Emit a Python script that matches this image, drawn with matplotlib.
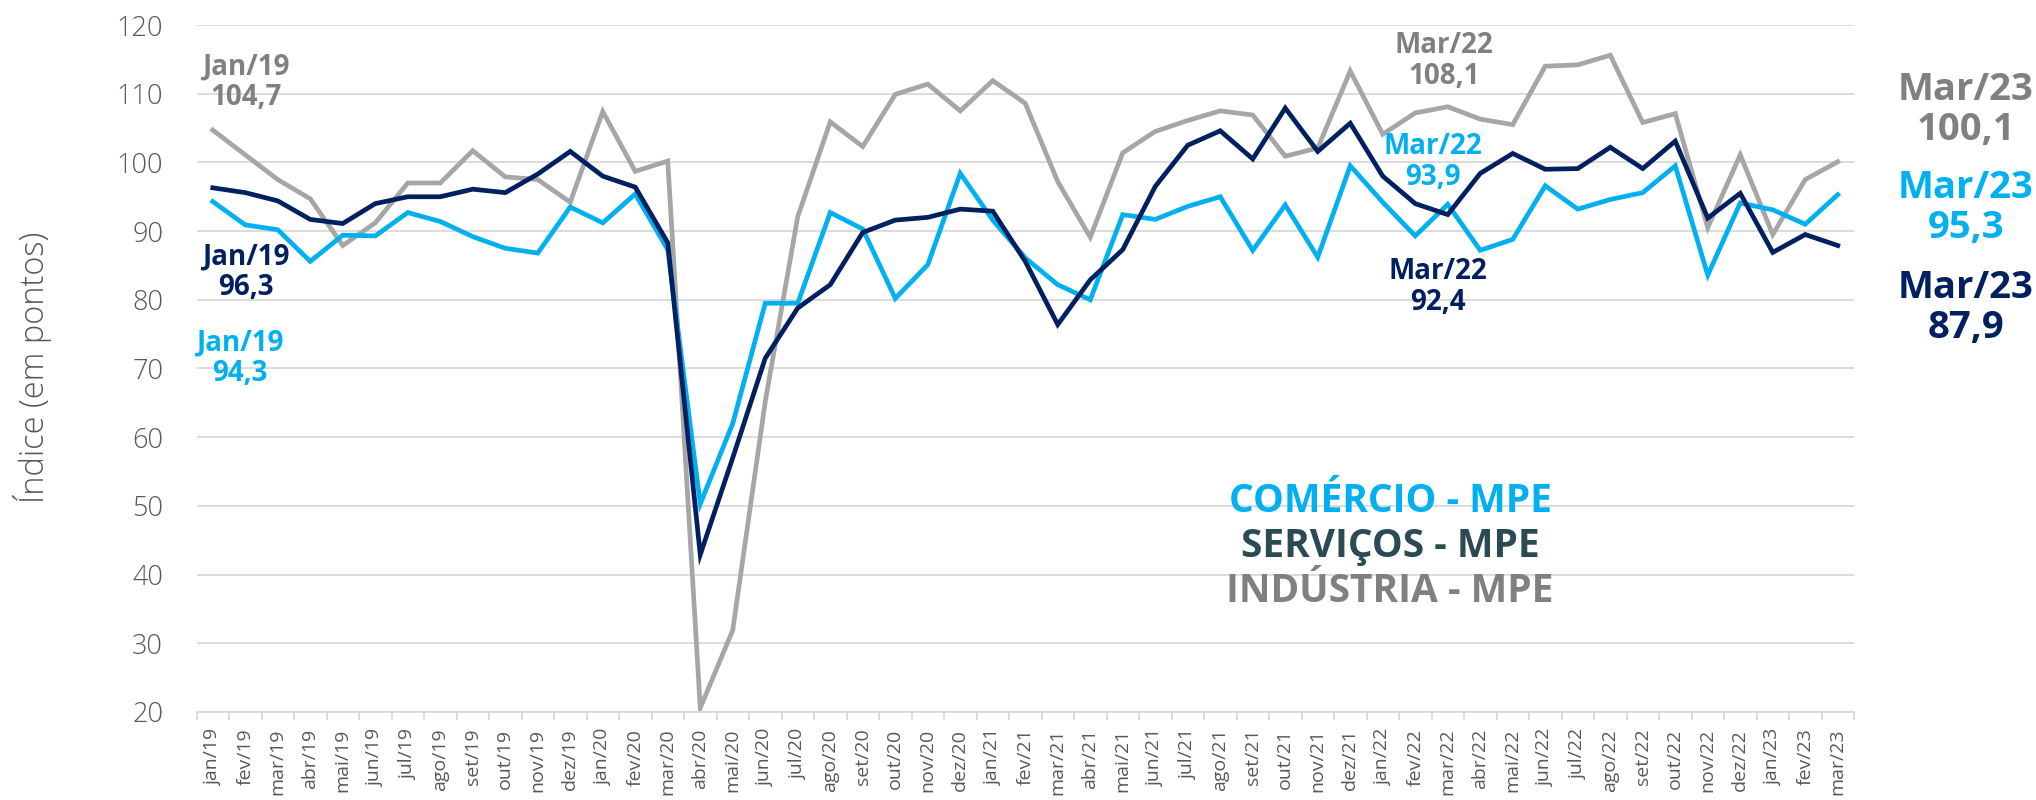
import matplotlib
matplotlib.use("Agg")
import matplotlib.pyplot as plt
import numpy as np

plt.rcParams['font.family'] = ['Open Sans', 'DejaVu Sans']

# month labels jan/19 .. mar/23
meses = ['jan', 'fev', 'mar', 'abr', 'mai', 'jun', 'jul', 'ago', 'set', 'out', 'nov', 'dez']
rotulos = [f"{m}/{a}" for a in range(19, 24) for m in meses][:51]

comercio = [94.3, 90.9, 90.2, 85.6, 89.4, 89.3, 92.7, 91.4, 89.2, 87.5, 86.8, 93.5,
            91.2, 95.4, 87.3, 50.3, 62.0, 79.5, 79.5, 92.7, 90.3, 80.2, 85.1, 98.4,
            91.6, 86.1, 82.2, 80.0, 92.4, 91.7, 93.6, 95.0, 87.2, 93.8, 86.2, 99.5,
            94.2, 89.3, 93.9, 87.2, 88.8, 96.6, 93.2, 94.6, 95.6, 99.5, 83.6, 94.1,
            93.1, 91.0, 95.3]
servicos = [96.3, 95.6, 94.4, 91.7, 91.1, 94.0, 95.0, 95.0, 96.1, 95.6, 98.3, 101.6,
            98.0, 96.4, 88.3, 42.9, 57.0, 71.5, 78.8, 82.2, 89.8, 91.6, 92.0, 93.2,
            92.9, 85.6, 76.4, 82.9, 87.3, 96.5, 102.5, 104.6, 100.5, 107.9, 101.6, 105.7,
            98.0, 94.0, 92.4, 98.4, 101.3, 99.0, 99.1, 102.2, 99.1, 103.1, 91.9, 95.5,
            86.9, 89.5, 87.9]
industria = [104.7, 101.1, 97.5, 94.7, 87.9, 91.2, 97.0, 97.0, 101.7, 97.9, 97.5, 94.2,
             107.4, 98.7, 100.2, 20.6, 31.9, 65.2, 92.1, 105.9, 102.3, 109.9, 111.4, 107.5,
             111.9, 108.6, 97.2, 89.1, 101.4, 104.5, 106.1, 107.5, 106.9, 100.9, 102.1, 113.3,
             104.1, 107.2, 108.1, 106.3, 105.5, 114.0, 114.2, 115.6, 105.8, 107.1, 90.5, 101.1,
             89.5, 97.5, 100.1]

AZUL = '#00B0F0'
MARINHO = '#002060'
CINZA = '#A6A6A6'
CINZA_TXT = '#808080'

W, H = 2036, 800
fig = plt.figure(figsize=(W / 100, H / 100), dpi=100)
ax = fig.add_axes([196.5 / W, 1 - 712 / H, (1854 - 196.5) / W, (712 - 25) / H])

x = np.arange(len(rotulos))
ax.plot(x, industria, color=CINZA, lw=3.4, solid_joinstyle='miter')
ax.plot(x, comercio, color=AZUL, lw=3.4, solid_joinstyle='miter')
ax.plot(x, servicos, color=MARINHO, lw=3.4, solid_joinstyle='miter')

ax.set_xlim(-0.5, len(rotulos) - 0.5)
ax.set_ylim(20, 120)
ax.set_yticks(range(20, 121, 10))
ax.grid(axis='y', color='#D9D9D9', lw=1.3)
ax.set_axisbelow(True)
for s in ['top', 'right', 'left']:
    ax.spines[s].set_visible(False)
ax.spines['bottom'].set_color('#D9D9D9')
ax.spines['bottom'].set_linewidth(1.3)

ax.set_xticks(x)
ax.set_xticklabels(rotulos, rotation=90, fontsize=14, color='#595959')
ax.set_xticks(np.arange(-0.5, len(rotulos)), minor=True)
ax.tick_params(axis='x', which='major', length=0, pad=12)
ax.tick_params(axis='x', which='minor', length=6, width=1.3, color='#D9D9D9')
ax.tick_params(axis='y', length=0, pad=24, labelsize=19.5, labelcolor='#595959')
for t in ax.get_yticklabels():
    t.set_fontweight('light')

fig.text(33 / W, 1 - 367 / H, 'Índice (em pontos)', rotation=90, ha='center', va='center',
         fontsize=23.5, color='#595959', fontweight='light')


def fmt(v):
    return f"{v:.1f}".replace('.', ',')


def rotulo(px, py, mes, v, cor, tam=20):
    fig.text(px / W, 1 - py / H, f"{mes}\n{fmt(v)}", ha='center', va='center',
             fontsize=tam, fontweight='bold', color=cor, linespacing=1.05)


rotulo(246, 82, 'Jan/19', industria[0], CINZA_TXT)
rotulo(246, 272, 'Jan/19', servicos[0], MARINHO)
rotulo(240, 358, 'Jan/19', comercio[0], AZUL)
rotulo(1444, 61, 'Mar/22', industria[38], CINZA_TXT)
rotulo(1433, 162, 'Mar/22', comercio[38], AZUL)
rotulo(1438, 287, 'Mar/22', servicos[38], MARINHO)
rotulo(1966, 110, 'Mar/23', industria[-1], CINZA_TXT, 27.5)
rotulo(1966, 208, 'Mar/23', comercio[-1], AZUL, 27.5)
rotulo(1966, 308, 'Mar/23', servicos[-1], MARINHO, 27.5)

# series names
fig.text(1390 / W, 1 - 502 / H, 'COMÉRCIO - MPE', ha='center', va='center',
         fontsize=28, fontweight='bold', color=AZUL)
fig.text(1390 / W, 1 - 547 / H, 'SERVIÇOS - MPE', ha='center', va='center',
         fontsize=28, fontweight='bold', color='#2B4A54')
fig.text(1390 / W, 1 - 592 / H, 'INDÚSTRIA - MPE', ha='center', va='center',
         fontsize=28, fontweight='bold', color=CINZA_TXT)

fig.savefig('out.png', dpi=100)
